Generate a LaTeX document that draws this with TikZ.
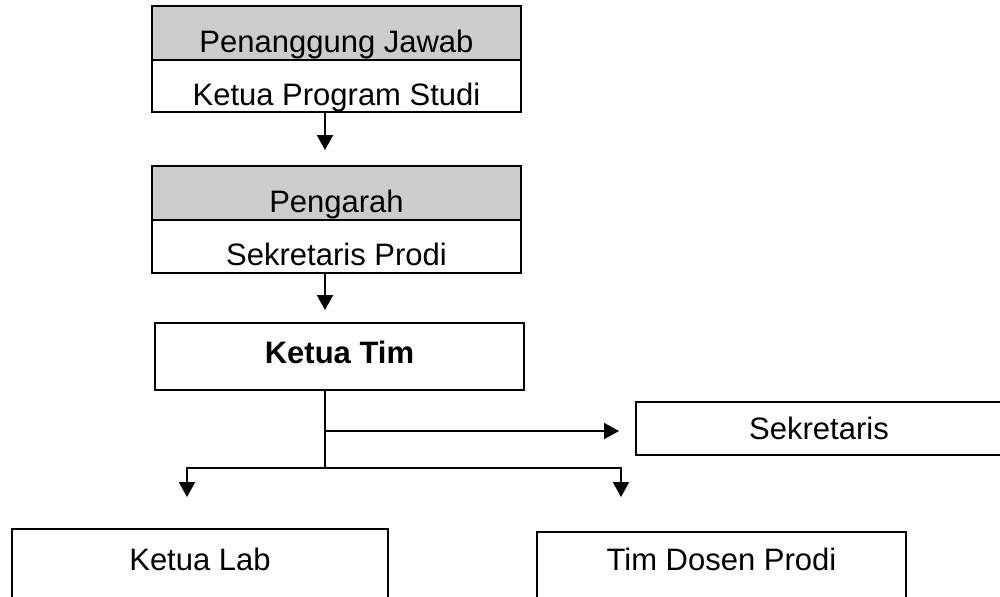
\documentclass[tikz,border=0pt]{standalone}
\usepackage{fontspec}
\setmainfont{Liberation Sans}
\usepackage{tikz}
\usetikzlibrary{arrows.meta, positioning}
\definecolor{headgray}{RGB}{204, 204, 204}

\begin{document}
\begin{tikzpicture}[x=0.5pt, y=-0.5pt, line width=1pt,
  box/.style={draw, line width=1pt, inner sep=0pt, outer sep=0pt, font=\fontsize{15.5}{18}\selectfont},
  stackbox/.style={box, minimum width=184.5pt, text height=19pt, text depth=0pt},
  arr/.style={-{Triangle[width=8pt, length=7.5pt]}, line width=1pt}]
  \useasboundingbox (0,0) rectangle (1000,596);

  % Penanggung jawab
  \node[stackbox, fill=headgray, minimum height=27pt] (pj) at (336.5, 33) {Penanggung Jawab};
  \node[stackbox, below=0pt of pj, minimum height=26pt] (kps) {Ketua Program Studi};

  % Pengarah
  \node[stackbox, fill=headgray, minimum height=27pt] (peng) at (336.5, 193) {Pengarah};
  \node[stackbox, below=0pt of peng, minimum height=26.5pt] (sp) {Sekretaris Prodi};

  % Ketua tim
  \node[box, minimum width=184.5pt, minimum height=33.5pt, text height=11pt, text depth=4.5pt] (kt) at (339.5, 356.5) {\bfseries Ketua Tim};

  % Sekretaris
  \node[box, minimum width=183pt, minimum height=26.5pt, text height=11pt, text depth=0pt] (sek) at (819, 428.5) {Sekretaris};

  % Bottom row
  \node[box, anchor=north, minimum width=188pt, inner ysep=9.5pt, text height=11pt, text depth=40pt] (kl) at (200, 529) {Ketua Lab};
  \node[box, anchor=north, minimum width=184.5pt, inner ysep=8pt, text height=11pt, text depth=40pt] (td) at (721.5, 532) {Tim Dosen Prodi};

  % Connectors
  \coordinate (axis) at (325, 0);
  \coordinate (fork) at (325, 431);
  \coordinate (split) at (325, 468);
  \coordinate (dropl) at (187, 468);
  \coordinate (dropr) at (621, 468);

  \draw[arr, shorten >=8pt] (kps.south -| axis) -- (peng.north -| axis);
  \draw[arr, shorten >=6.5pt] (sp.south -| axis) -- (kt.north -| axis);
  \draw (kt.south -| axis) -- (split);
  \draw[arr, shorten >=8.5pt] (fork) -- (fork -| sek.west);
  \draw[line cap=rect] (dropl) -- (dropr);
  \draw[arr, shorten >=16pt] (dropl) -- (dropl |- kl.north);
  \draw[arr, shorten >=17.5pt] (dropr) -- (dropr |- td.north);
\end{tikzpicture}
\end{document}
